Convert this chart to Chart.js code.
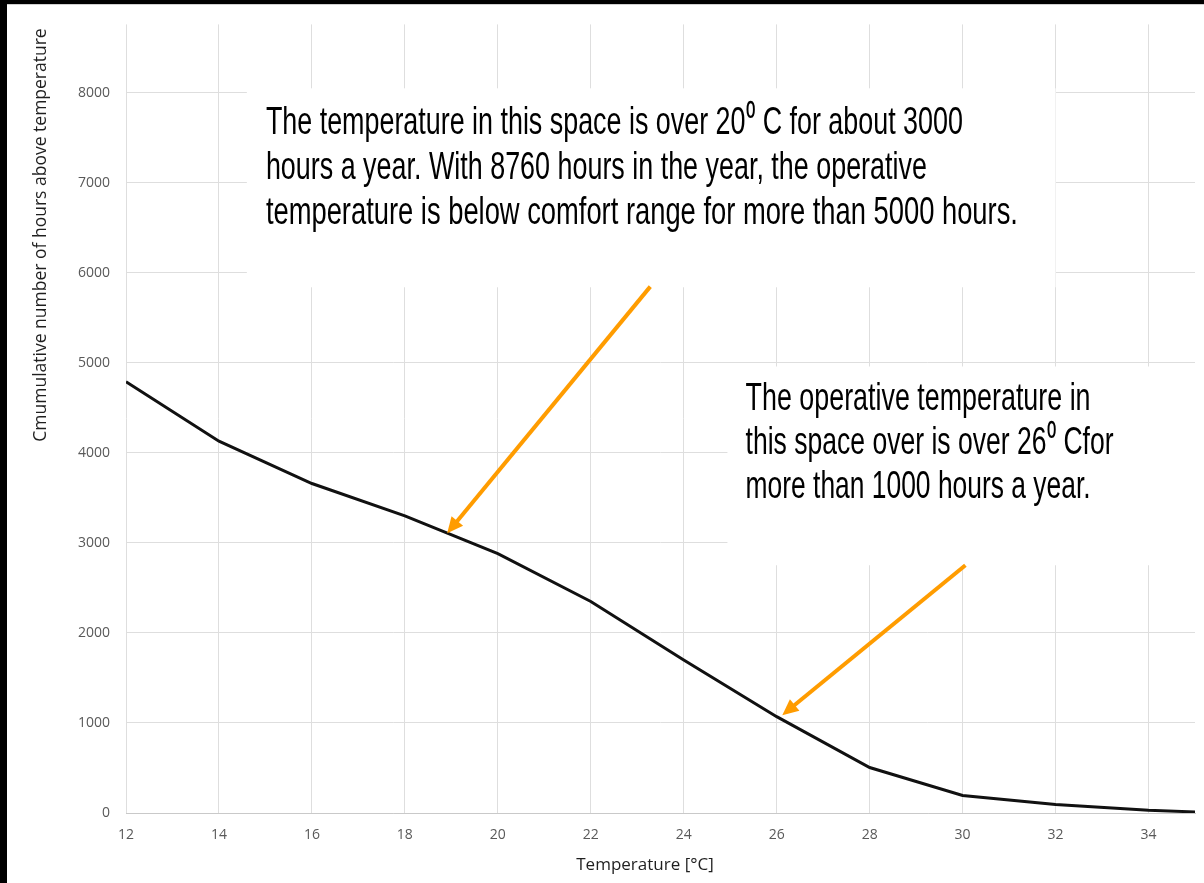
<!DOCTYPE html>
<html><head><meta charset="utf-8">
<script src="https://cdn.jsdelivr.net/npm/chart.js@4/dist/chart.umd.min.js"></script>
<style>html,body{margin:0;padding:0;background:#000;overflow:hidden}canvas{display:block}</style>
</head><body>
<canvas id="c" width="1204" height="883"></canvas>
<script>
// ---- data ----
const temperatures = [12, 14, 16, 18, 20, 22, 24, 26, 28, 30, 32, 34, 35];
const hoursAbove   = [4790, 4130, 3660, 3300, 2880, 2350, 1700, 1070, 505, 195, 95, 30, 12];
const xRange = [12, 35];
const yRange = [0, 8760];
const xTickValues = [12, 14, 16, 18, 20, 22, 24, 26, 28, 30, 32, 34];
const yTickValues = [0, 1000, 2000, 3000, 4000, 5000, 6000, 7000, 8000];
const xTitle = 'Temperature [\u00B0C]';
const yTitle = 'Cmumulative number of hours above temperature';
const note1Lines = [
  'The temperature in this space is over 20\u2070 C for about 3000',
  'hours a year. With 8760 hours in the year, the operative',
  'temperature is below comfort range for more than 5000 hours.'
];
const note2Lines = [
  'The operative temperature in',
  'this space over is over 26\u2070 Cfor',
  'more than 1000 hours a year.'
];
// annotation anchors in data coordinates
const note1Box = [14.6, 8050, 32.0, 5840];
const note2Box = [24.94, 4960, 36, 2752];
const note1Anchor = [15.01, 7545];
const note2Anchor = [25.33, 4472];
const arrow1 = [23.28, 5847, 18.91, 3107];
const arrow2 = [30.06, 2752, 26.12, 1087];

// ---- styles ----
const ORANGE = '#FF9C00';
const notes = [
  {box: note1Box, at: note1Anchor, lines: note1Lines, widths: [697, 661, 752], lh: 45},
  {box: note2Box, at: note2Anchor, lines: note2Lines, widths: [345, 368, 345], lh: 44}
];

function drawArrow(ctx, x1, y1, x2, y2) {
  const a = Math.atan2(y2 - y1, x2 - x1);
  const hl = 16, hw = 7.5;
  const bx = x2 - hl * Math.cos(a), by = y2 - hl * Math.sin(a);
  ctx.strokeStyle = ORANGE; ctx.fillStyle = ORANGE; ctx.lineWidth = 4; ctx.lineCap = 'butt';
  ctx.beginPath(); ctx.moveTo(x1, y1); ctx.lineTo(bx + 2*Math.cos(a), by + 2*Math.sin(a)); ctx.stroke();
  ctx.beginPath();
  ctx.moveTo(x2, y2);
  ctx.lineTo(bx - hw * Math.sin(a), by + hw * Math.cos(a));
  ctx.lineTo(bx + hw * Math.sin(a), by - hw * Math.cos(a));
  ctx.closePath(); ctx.fill();
}

const decor = {
  id: 'decor',
  beforeDraw(chart) {
    const ctx = chart.ctx;
    ctx.save();
    ctx.fillStyle = '#fff'; ctx.fillRect(0, 0, chart.width, chart.height);
    ctx.fillStyle = '#000'; ctx.fillRect(0, 0, chart.width, 4); ctx.fillRect(0, 0, 7, chart.height);
    ctx.fillStyle = '#d0d0d0'; ctx.fillRect(7, 4, chart.width - 7, 1);
    ctx.restore();
  },
  beforeDatasetsDraw(chart) {
    const ctx = chart.ctx, xs = chart.scales.x, ys = chart.scales.y;
    ctx.save(); ctx.fillStyle = '#fff';
    notes.forEach(n => {
      const x0 = xs.getPixelForValue(n.box[0]), y0 = ys.getPixelForValue(n.box[1]);
      const x1 = xs.getPixelForValue(n.box[2]), y1 = ys.getPixelForValue(n.box[3]);
      ctx.fillRect(x0, y0, x1 - x0, y1 - y0);
    });
    ctx.restore();
  },
  afterDatasetsDraw(chart) {
    const ctx = chart.ctx, xs = chart.scales.x, ys = chart.scales.y;
    ctx.save();
    [arrow1, arrow2].forEach(a => drawArrow(ctx,
      xs.getPixelForValue(a[0]), ys.getPixelForValue(a[1]),
      xs.getPixelForValue(a[2]), ys.getPixelForValue(a[3])));
    ctx.fillStyle = '#000';
    ctx.font = '39px "Liberation Sans"';
    ctx.textBaseline = 'alphabetic'; ctx.textAlign = 'left';
    notes.forEach(n => {
      const x = xs.getPixelForValue(n.at[0]), y = ys.getPixelForValue(n.at[1]);
      n.lines.forEach((line, i) => {
        const m = ctx.measureText(line).width;
        ctx.save();
        ctx.translate(x, y + i * n.lh);
        ctx.scale(n.widths[i] / m, 1);
        ctx.fillText(line, 0, 0);
        ctx.restore();
      });
    });
    ctx.restore();
  },
  afterDraw(chart) {
    const ctx = chart.ctx;
    ctx.save();
    ctx.fillStyle = '#1f1f1f';
    ctx.textAlign = 'center'; ctx.textBaseline = 'alphabetic';
    ctx.font = '17px "Open Sans"';
    ctx.fillText(xTitle, 645, 870);
    ctx.font = '17.5px "Open Sans"';
    ctx.translate(46, 235); ctx.rotate(-Math.PI / 2);
    ctx.fillText(yTitle, 0, 0);
    ctx.restore();
  }
};

new Chart(document.getElementById('c'), {
  type: 'line',
  data: {
    datasets: [{
      data: temperatures.map((t, i) => ({x: t, y: hoursAbove[i]})),
      borderColor: '#111', borderWidth: 3, pointRadius: 0, tension: 0, fill: false
    }]
  },
  options: {
    responsive: false, animation: false, devicePixelRatio: 1,
    layout: {padding: {top: 24, right: 9, left: 0, bottom: 0}},
    plugins: {legend: {display: false}, tooltip: {enabled: false}},
    scales: {
      x: {
        type: 'linear', min: xRange[0], max: xRange[1],
        afterFit(s) { s.height = 70; },
        afterBuildTicks(s) { s.ticks = xTickValues.map(v => ({value: v})); },
        ticks: {color: '#595959', padding: 14, font: {family: 'Open Sans', size: 14},
                callback: v => String(v)},
        grid: {color: '#dedede', drawTicks: false},
        border: {color: '#c9c9c9'}
      },
      y: {
        type: 'linear', min: yRange[0], max: yRange[1],
        afterFit(s) { s.width = 126; },
        afterBuildTicks(s) { s.ticks = yTickValues.map(v => ({value: v})); },
        ticks: {color: '#595959', padding: 16, font: {family: 'Open Sans', size: 14},
                callback: v => String(v)},
        grid: {color: '#dedede', drawTicks: false},
        border: {display: false}
      }
    }
  },
  plugins: [decor]
});
</script>
</body></html>
